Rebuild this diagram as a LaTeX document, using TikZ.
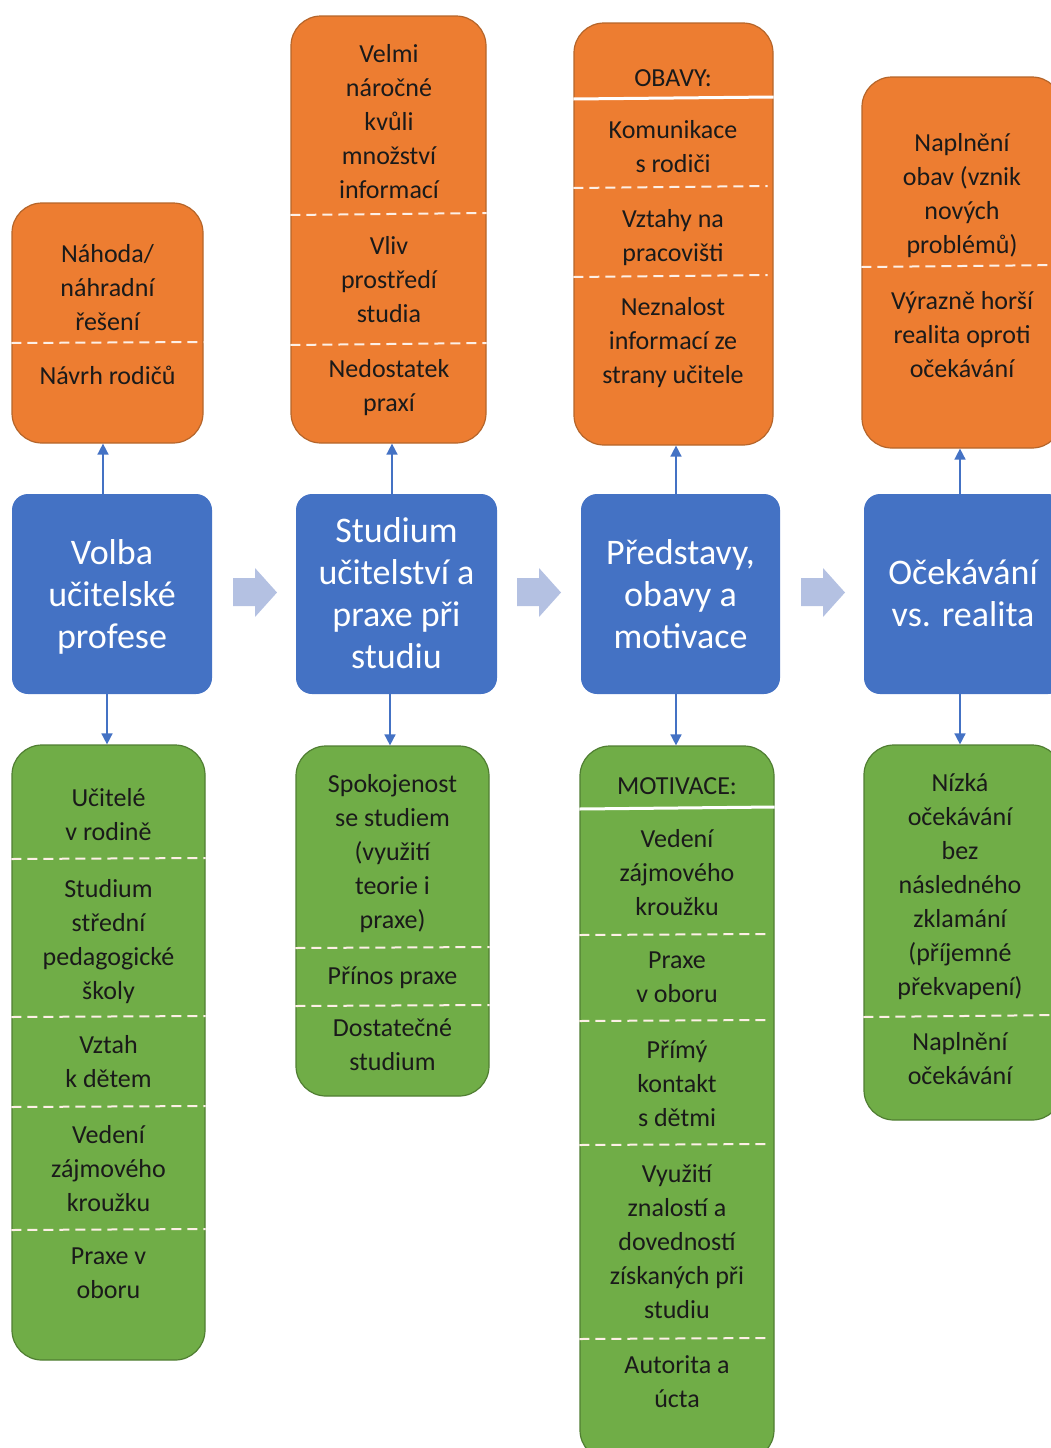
\documentclass[tikz,border=0pt]{standalone}
\usepackage{fontspec}
\setmainfont{Carlito}
\usetikzlibrary{arrows.meta,calc}
\definecolor{cblue}{HTML}{4472C4}
\definecolor{corange}{HTML}{ED7D31}
\definecolor{corangeb}{HTML}{B5652A}
\definecolor{cgreen}{HTML}{70AD47}
\definecolor{cgreenb}{HTML}{507E32}
\definecolor{carrow}{HTML}{B4C1E2}
\definecolor{ctext}{HTML}{1A1A1A}
\begin{document}
\begin{tikzpicture}[x=1pt,y=-1pt,
  obox/.style={draw=corangeb, line width=1.2pt, fill=corange, rounded corners=30pt, inner sep=0pt},
  gbox/.style={draw=cgreenb, line width=1.2pt, fill=cgreen, rounded corners=30pt, inner sep=0pt},
  bbox/.style={fill=cblue, rounded corners=16pt, inner sep=0pt, minimum width=200pt, minimum height=200pt},
  itext/.style={align=center, text=ctext, inner sep=0pt, yshift=-5.5pt, font=\fontsize{26}{34}\selectfont,
    execute at begin node=\strut, execute at end node=\strut},
  btext/.style={align=center, text=white, inner sep=0pt, yshift=-6pt, font=\fontsize{36}{42}\selectfont,
    execute at begin node=\strut, execute at end node=\strut},
  dline/.style={draw=white!88!corange, line width=2pt, dash pattern=on 10pt off 6pt},
  sline/.style={draw=white, line width=3pt},
  conn/.style={draw=cblue, line width=1.6pt, -{Triangle[width=11pt,length=11pt]}},
  barrow/.style={fill=carrow, draw=none}
]
\useasboundingbox (0,0) rectangle (1051,1448);
\clip (0,0) rectangle (1051,1448);

% ---------- blue main boxes ----------
\node[bbox] (b1) at (112,594) {};
\node[bbox, minimum width=201pt] (b2) at (396.5,594) {};
\node[bbox, minimum width=199pt] (b3) at (680.5,594) {};
\node[bbox] (b4) at (964,594) {};
\node[btext] (b1t) at (112,594) {Volba\\učitelské\\profese};
\node[btext] (b2t) at (396.5,593) {Studium\\učitelství a\\praxe při\\studiu};
\node[btext] (b3t) at (680.5,594) {Představy,\\obavy a\\motivace};
\node[btext] (b4t) at (963,593) {Očekávání\\vs. realita};

% ---------- block arrows ----------
\foreach \dx/\nm in {0/ba1, 284/ba2, 568/ba3}{
  \fill[barrow] ($(233+\dx,578)$) -- ($(255+\dx,578)$) -- ($(255+\dx,568)$) -- ($(277+\dx,592.5)$)
    -- ($(255+\dx,617)$) -- ($(255+\dx,606)$) -- ($(233+\dx,606)$) -- cycle;
}

% ---------- orange boxes ----------
\node[obox, minimum width=191pt, minimum height=240pt] (o1) at (107.5,323) {};
\node[obox, minimum width=195pt, minimum height=427pt] (o2) at (388.5,229.5) {};
\node[obox, minimum width=199pt, minimum height=422pt] (o3) at (673.5,234) {};
\node[obox, minimum width=200pt, minimum height=371pt] (o4) at (962,262.5) {};

\node[itext] (o1a) at (107.5,286.7) {Náhoda/\\náhradní\\řešení};
\node[itext] (o1b) at (107.5,372) {Návrh rodičů};
\draw[dline] (o1.west |- 0,343) -- (o1.east |- 0,342);

\node[itext] (o2a) at (389,121) {Velmi\\náročné\\kvůli\\množství\\informací};
\node[itext] (o2b) at (389,279) {Vliv\\prostředí\\studia};
\node[itext] (o2c) at (389,385) {Nedostatek\\praxí};
\draw[dline] (o2.west |- 0,215) -- (o2.east |- 0,213);
\draw[dline] (o2.west |- 0,345) -- (o2.east |- 0,343);

\node[itext] (o3a) at (673,74) {OBAVY:};
\node[itext] (o3b) at (673,146) {Komunikace\\s rodiči};
\node[itext] (o3c) at (673,235.5) {Vztahy na\\pracovišti};
\node[itext] (o3d) at (673,340) {Neznalost\\informací ze\\strany učitele};
\draw[sline] (o3.west |- 0,99) -- (o3.east |- 0,97);
\draw[dline] (o3.west |- 0,188) -- ($(o3.east |- 0,186)+(-6,0)$);
\draw[dline] (o3.west |- 0,277) -- ($(o3.east |- 0,275)+(-6,0)$);

\node[itext] (o4a) at (962,193) {Naplnění\\obav (vznik\\nových\\problémů)};
\node[itext] (o4b) at (962,333.7) {Výrazně horší\\realita oproti\\očekávání};
\draw[dline] (o4.west |- 0,267) -- (o4.east |- 0,265);

% ---------- green boxes ----------
\node[gbox, minimum width=193pt, minimum height=615pt] (g1) at (108.5,1052.5) {};
\node[gbox, minimum width=193pt, minimum height=350pt] (g2) at (392.5,921) {};
\node[gbox, minimum width=194pt, minimum height=714pt] (g3) at (677,1103) {};
\node[gbox, minimum width=198pt, minimum height=375pt] (g4) at (963,932.5) {};

\node[itext] (g1a) at (108.5,814.5) {Učitelé\\v rodině};
\node[itext] (g1b) at (108.5,938.7) {Studium\\střední\\pedagogické\\školy};
\node[itext] (g1c) at (108.5,1061) {Vztah\\k dětem};
\node[itext] (g1d) at (108.5,1168) {Vedení\\zájmového\\kroužku};
\node[itext] (g1e) at (108.5,1273) {Praxe v\\oboru};
\draw[dline] (g1.west |- 0,859) -- (g1.east |- 0,858);
\draw[dline] (g1.west |- 0,1017) -- (g1.east |- 0,1016);
\draw[dline] (g1.west |- 0,1107) -- (g1.east |- 0,1106);
\draw[dline] (g1.west |- 0,1230) -- (g1.east |- 0,1229);

\node[itext] (g2a) at (392.5,851) {Spokojenost\\se studiem\\(využití\\teorie i\\praxe)};
\node[itext] (g2b) at (392.5,972) {Přínos praxe};
\node[itext] (g2c) at (392.5,1044) {Dostatečné\\studium};
\draw[dline] (g2.west |- 0,948) -- (g2.east |- 0,947);
\draw[dline] (g2.west |- 0,1006) -- (g2.east |- 0,1005);

\node[itext] (g3a) at (677,782) {MOTIVACE:};
\node[itext] (g3b) at (677,872) {Vedení\\zájmového\\kroužku};
\node[itext] (g3c) at (677,977) {Praxe\\v oboru};
\node[itext] (g3d) at (677,1083) {Přímý\\kontakt\\s dětmi};
\node[itext] (g3e) at (677,1241) {Využití\\znalostí a\\dovedností\\získaných při\\studiu};
\node[itext] (g3f) at (677,1381) {Autorita a\\úcta};
\draw[sline] (g3.west |- 0,809) -- (g3.east |- 0,807);
\draw[dline] (g3.west |- 0,935) -- ($(g3.east |- 0,934)+(-6,0)$);
\draw[dline] (g3.west |- 0,1021) -- ($(g3.east |- 0,1020)+(-6,0)$);
\draw[dline] (g3.west |- 0,1145) -- ($(g3.east |- 0,1144)+(-6,0)$);
\draw[dline] (g3.west |- 0,1339) -- ($(g3.east |- 0,1338)+(-6,0)$);

\node[itext] (g4a) at (960,884) {Nízká\\očekávání\\bez\\následného\\zklamání\\(příjemné\\překvapení)};
\node[itext] (g4b) at (960,1058) {Naplnění\\očekávání};
\draw[dline] (g4.west |- 0,1017) -- (g4.east |- 0,1015);

% ---------- connectors ----------
\draw[conn] (b1.north -| 103,0) -- (o1.south -| 103,0);
\draw[conn] (b2.north -| 392,0) -- (o2.south -| 392,0);
\draw[conn] (b3.north -| 676,0) -- (o3.south -| 676,0);
\draw[conn] (b4.north -| 960,0) -- (o4.south -| 960,0);
\draw[conn] (b1.south -| 107,0) -- (g1.north -| 107,0);
\draw[conn] (b2.south -| 390,0) -- (g2.north -| 390,0);
\draw[conn] (b3.south -| 676,0) -- (g3.north -| 676,0);
\draw[conn] (b4.south -| 960,0) -- (g4.north -| 960,0);
\end{tikzpicture}
\end{document}
